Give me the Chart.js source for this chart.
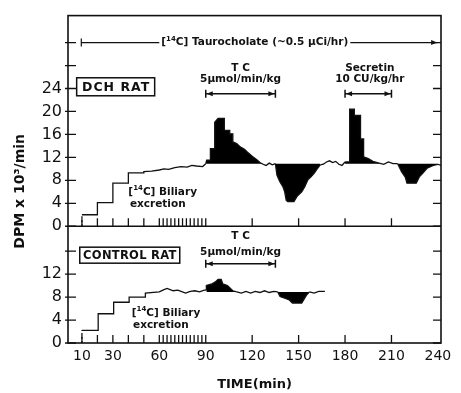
<!DOCTYPE html>
<html>
<head>
<meta charset="utf-8">
<script src="https://cdn.jsdelivr.net/npm/chart.js@4"></script>
<style>
html,body{margin:0;padding:0;background:#fff;}
</style>
</head>
<body>
<canvas id="chart" width="461" height="393"></canvas>
<script>
// DCH rat, biliary [14C] output (DPM x 10^3/min) vs time (min)
const dchTime = [10,10,20,20,30,30,40,40,50,50,55,60,63,66,70,74,78,81,84,88,90,90.6,93,93,95.8,95.8,98,102,102,105.5,105.5,107.5,107.5,110,112,115,117,120,123,125,127,129,131,133,135,136,137.8,140,141,142,143,147,149,152,154,156,158,160,162,164,166,168,170,172,174,176,178,180,183,183,186,186,190,190,192,192,195,198,202,205,208,211,214,216.5,219,220,226,228,230,233,237,240,242];
const dchDpm = [0,2,2,4.1,4.1,7.5,7.5,9.3,9.3,9.5,9.6,9.8,10.0,9.9,10.2,10.4,10.3,10.6,10.5,10.4,10.9,11.5,11.5,13.5,13.5,18.1,18.8,18.8,16.7,16.7,16.1,16.1,14.7,14.4,13.9,13.4,12.9,12.2,11.6,11.1,10.8,10.6,11.0,10.7,10.9,8.9,7.8,6.8,6.0,4.5,4.3,4.3,5.2,6.0,6.9,8.1,8.6,9.2,10.0,10.7,10.8,11.2,11.4,11.1,11.3,10.8,10.6,11.2,11.2,20.4,20.4,19.3,19.3,15.2,15.2,12.1,11.8,11.3,11.0,10.8,11.2,10.9,10.9,9.5,8.5,7.5,7.5,8.6,9.2,10.1,10.6,10.8,10.6];

// control rat
const ctlTime = [10,10,20.5,20.5,30.5,30.5,40.5,40.5,51,51,60,63,65,67,69,72,74,77,80,83,86,89,90.4,90.4,94,96,98,100,101,104,107.5,110,113,116,119,122,125,128,131,134,136.5,138,141,144,146,152,155,157,160,163,167];
const ctlDpm = [0,2.2,2.2,5.1,5.1,7.1,7.1,8.0,8.0,8.7,8.9,9.3,9.5,9.3,9.1,9.2,9.0,8.7,9.0,9.1,8.9,9.2,9.2,10.0,10.3,10.6,11.1,11.1,10.3,10.0,9.1,8.9,8.7,9.0,8.7,9.0,8.8,9.1,8.8,9.0,8.9,8.1,7.8,7.5,6.95,6.95,8.3,8.9,8.7,9.0,9.0];

const dchBase = 10.9;
const ctlBase = 8.9;
const dchZones = [[90,127],[135,164],[180,202],[214,240]];
const ctlZones = [[90,108],[136.5,157]];

const xLabels = [10,30,60,90,120,150,180,210,240];
const dchTicks = [0,4,8,12,16,20,24,28,32];
const dchLabels = [0,4,8,12,16,20,24];
const ctlTicks = [0,4,8,12,16];
const ctlLabels = [0,4,8,12];
const sampleTimes = [10,20,30,40,50,60,62.5,65,67.5,70,72.5,75,77.5,80,82.5,85,87.5,90,120,150,180,210];

const ink = '#111';
const FONT = '"DejaVu Sans"';
Chart.defaults.font.family = FONT;
Chart.defaults.color = ink;

function inZone(zones, t){
  return zones.some(z => t >= z[0] && t < z[1]);
}

function series(times, vals, axis, base, zones){
  return {
    data: times.map((t,i) => ({x:t, y:vals[i]})),
    yAxisID: axis,
    borderColor: ink,
    borderWidth: 1.3,
    pointRadius: 0,
    tension: 0,
    fill: {value: base},
    backgroundColor: '#000',
    segment: {
      backgroundColor: c => inZone(zones, c.p0.parsed.x) ? '#000' : 'rgba(0,0,0,0)',
      borderDash: c => c.p0DataIndex === 0 ? [2,2] : undefined
    }
  };
}

function arrowHead(ctx, x, y, dir){
  ctx.beginPath();
  ctx.moveTo(x, y);
  ctx.lineTo(x - dir*6, y - 2.5);
  ctx.lineTo(x - dir*6, y + 2.5);
  ctx.closePath();
  ctx.fill();
}

function bracket(ctx, x1, x2, y){
  ctx.beginPath();
  ctx.moveTo(x1, y); ctx.lineTo(x2, y);
  ctx.moveTo(x1, y-4); ctx.lineTo(x1, y+4);
  ctx.moveTo(x2, y-4); ctx.lineTo(x2, y+4);
  ctx.stroke();
  arrowHead(ctx, x1+1, y, -1);
  arrowHead(ctx, x2-1, y, 1);
}

// parts: [text, isSuperscript]
function rich(ctx, parts, x, y, size, align){
  const big = 'bold ' + size + 'px ' + FONT;
  const small = 'bold ' + Math.round(size*0.7) + 'px ' + FONT;
  let w = 0;
  parts.forEach(p => { ctx.font = p[1] ? small : big; w += ctx.measureText(p[0]).width; });
  let cx = align === 'center' ? x - w/2 : x;
  ctx.textAlign = 'left';
  ctx.textBaseline = 'middle';
  parts.forEach(p => {
    ctx.font = p[1] ? small : big;
    ctx.fillText(p[0], cx, p[1] ? y - size*0.35 : y);
    cx += ctx.measureText(p[0]).width;
  });
  return w;
}

function label(ctx, txt, x, y, size){
  ctx.font = 'bold ' + size + 'px ' + FONT;
  ctx.textAlign = 'center';
  ctx.textBaseline = 'middle';
  ctx.fillText(txt, x, y);
}

function boxLabel(ctx, txt, x, y, w, h, size, spacing){
  ctx.lineWidth = 1.5;
  ctx.strokeRect(x - w/2, y - h/2, w, h);
  ctx.save();
  if ('letterSpacing' in ctx) ctx.letterSpacing = spacing + 'px';
  label(ctx, txt, x + spacing/2, y + 0.5, size);
  ctx.restore();
}

const extras = {
  id: 'extras',
  afterDraw(chart){
    const ctx = chart.ctx, a = chart.chartArea;
    const x = chart.scales.x, yD = chart.scales.yD, yC = chart.scales.yC;
    const px = t => x.getPixelForValue(t);
    ctx.save();
    ctx.strokeStyle = ink;
    ctx.fillStyle = ink;

    // frame and panel divider
    ctx.lineWidth = 1.6;
    ctx.strokeRect(a.left, a.top, a.right - a.left, a.bottom - a.top);
    ctx.beginPath();
    ctx.moveTo(a.left, yD.bottom); ctx.lineTo(a.right, yD.bottom);
    ctx.stroke();

    // inner y ticks both sides
    ctx.lineWidth = 1.3;
    [[yD, dchTicks], [yC, ctlTicks]].forEach(([s, list]) => {
      list.forEach(v => {
        const py = s.getPixelForValue(v);
        ctx.beginPath();
        ctx.moveTo(a.left - 3, py); ctx.lineTo(a.left + 8, py);
        ctx.moveTo(a.right - 8, py); ctx.lineTo(a.right, py);
        ctx.stroke();
      });
    });

    // sample time marks on each panel's zero line
    [yD, yC].forEach(s => {
      const py = s.getPixelForValue(0);
      sampleTimes.forEach(t => {
        ctx.beginPath();
        ctx.moveTo(px(t), py); ctx.lineTo(px(t), py - 8);
        ctx.stroke();
      });
    });

    // taurocholate infusion line
    const ty = yD.getPixelForValue(32);
    const tcx = px(121.7);
    const tw = rich(ctx, [['[',0],['14',1],['C] Taurocholate (~0.5 \u00b5Ci/hr)',0]], tcx, ty, 10.5, 'center');
    ctx.lineWidth = 1.2;
    ctx.beginPath();
    ctx.moveTo(px(9.6), ty); ctx.lineTo(tcx - tw/2 - 2, ty);
    ctx.moveTo(tcx + tw/2 + 2, ty); ctx.lineTo(px(239.5), ty);
    ctx.moveTo(px(9.6), ty - 4); ctx.lineTo(px(9.6), ty + 4);
    ctx.stroke();
    arrowHead(ctx, px(239.5), ty, 1);

    // DCH panel notes
    boxLabel(ctx, 'DCH RAT', px(31.8), yD.getPixelForValue(24.3), 78, 18, 12.5, 1);
    label(ctx, 'T C', px(112.5), yD.getPixelForValue(27.6), 10.5);
    label(ctx, '5\u00b5mol/min/kg', px(112.5), yD.getPixelForValue(25.6), 10.5);
    bracket(ctx, px(90), px(135), yD.getPixelForValue(23.1));
    label(ctx, 'Secretin', px(196), yD.getPixelForValue(27.6), 10.5);
    label(ctx, '10 CU/kg/hr', px(196), yD.getPixelForValue(25.6), 10.5);
    bracket(ctx, px(180), px(210), yD.getPixelForValue(23.1));
    rich(ctx, [['[',0],['14',1],['C] Biliary',0]], px(40), yD.getPixelForValue(6.0), 10.5, 'left');
    rich(ctx, [['excretion',0]], px(41), yD.getPixelForValue(3.9), 10.5, 'left');

    // control panel notes
    boxLabel(ctx, 'CONTROL RAT', px(40.9), yC.getPixelForValue(15.3), 100, 16, 11.5, 0.3);
    label(ctx, 'T C', px(112.5), yC.getPixelForValue(18.6), 10.5);
    label(ctx, '5\u00b5mol/min/kg', px(112.5), yC.getPixelForValue(15.8), 10.5);
    bracket(ctx, px(90), px(135), yC.getPixelForValue(13.8));
    rich(ctx, [['[',0],['14',1],['C] Biliary',0]], px(42.2), yC.getPixelForValue(5.2), 10.5, 'left');
    rich(ctx, [['excretion',0]], px(43), yC.getPixelForValue(3.1), 10.5, 'left');

    // y title
    ctx.save();
    ctx.translate(20, (a.top + a.bottom) / 2 + 12);
    ctx.rotate(-Math.PI / 2);
    label(ctx, 'DPM x 10\u00b3/min', 0, 0, 14);
    ctx.restore();

    ctx.restore();
  }
};

function yScale(max, weight, ticks, labels){
  return {
    type: 'linear',
    position: 'left',
    stack: 'panels',
    stackWeight: weight,
    min: 0,
    max: max,
    afterBuildTicks: s => { s.ticks = ticks.map(v => ({value: v})); },
    afterFit: s => { s.width = 68; },
    grid: {display: false, drawTicks: false},
    border: {display: false},
    ticks: {
      padding: 6,
      autoSkip: false,
      font: {size: 16},
      callback: v => labels.includes(v) ? String(v) : ''
    }
  };
}

new Chart(document.getElementById('chart'), {
  type: 'line',
  data: {
    datasets: [
      series(ctlTime, ctlDpm, 'yC', ctlBase, ctlZones),
      series(dchTime, dchDpm, 'yD', dchBase, dchZones)
    ]
  },
  options: {
    responsive: false,
    animation: false,
    devicePixelRatio: 1,
    layout: {padding: {top: 12, right: 20, left: 0, bottom: 0}},
    plugins: {legend: {display: false}, tooltip: {enabled: false}},
    scales: {
      x: {
        type: 'linear',
        min: 1,
        max: 242,
        afterBuildTicks: s => { s.ticks = xLabels.map(v => ({value: v})); },
        afterFit: s => { s.height = 50; },
        grid: {display: false, drawTicks: false},
        border: {display: false},
        ticks: {padding: 5, autoSkip: false, maxRotation: 0, font: {size: 14}},
        title: {display: true, text: 'TIME(min)', font: {size: 13, weight: 'bold'}, padding: {top: 0, bottom: 1}}
      },
      yC: yScale(20.34, 20.34, ctlTicks, ctlLabels),
      yD: yScale(36.7, 36.7, dchTicks, dchLabels)
    }
  },
  plugins: [extras]
});
</script>
</body>
</html>
